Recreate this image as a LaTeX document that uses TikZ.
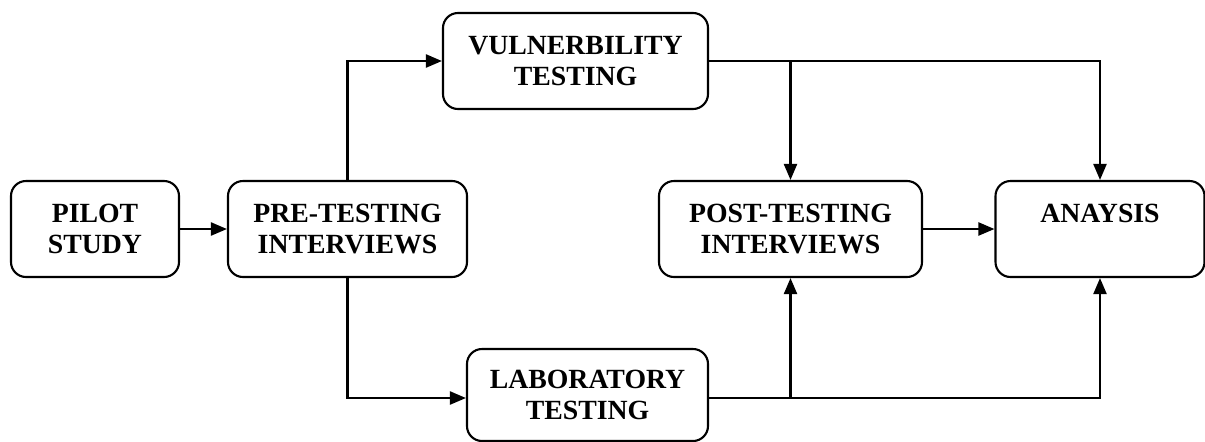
\documentclass[tikz,border=0pt]{standalone}
\usepackage{fontspec}
\setmainfont{Liberation Serif}
\usetikzlibrary{positioning,arrows.meta}
\tikzstyle{block} = [draw, rounded corners=0.3cm, line width=1.2pt, rectangle, align=center, minimum height=1.92cm, font=\fontsize{15.8}{17.6}\selectfont\bfseries]
\tikzstyle{conn} = [draw, line width=1.3pt]

\begin{document}
\begin{tikzpicture}[auto, node distance=5.05cm, >={Triangle[length=0.32cm,width=0.26cm]}]
        \useasboundingbox (0,0) rectangle (24.1,-8.82);

        \node [block, minimum width=3.36cm] at (1.9,-4.58) (pilot) {PILOT\\STUDY};
        \node [block, minimum width=4.78cm, right of=pilot] (pre) {PRE-TESTING\\INTERVIEWS};
        \node [block, minimum width=5.26cm, right of=pre, node distance=8.86cm] (post) {POST-TESTING\\INTERVIEWS};
        \node [block, minimum width=4.18cm, right of=post, node distance=6.19cm] (ana) {ANAYSIS\\~};

        \node [block, minimum width=5.3cm] at (11.51,-1.22) (vuln) {VULNERBILITY\\TESTING};
        \node [block, minimum width=4.82cm, minimum height=1.84cm] at (11.75,-7.9) (lab) {LABORATORY\\TESTING};

        \draw [conn, ->] (pilot) -- (pre);
        \draw [conn, ->] (pre.north) |- (vuln.west);
        \draw [conn, ->] (pre.south) |- ([yshift=-0.06cm]lab.west);
        \draw [conn, ->] (post) -- (ana);

        % outputs of both testing stages feed the interviews and the analysis
        \draw [conn, ->] (vuln.east) -| (post.north);
        \draw [conn, ->] (vuln.east) -| (ana.north);
        \draw [conn, ->] ([yshift=-0.06cm]lab.east) -| (post.south);
        \draw [conn, ->] ([yshift=-0.06cm]lab.east) -| (ana.south);
\end{tikzpicture}
\end{document}
